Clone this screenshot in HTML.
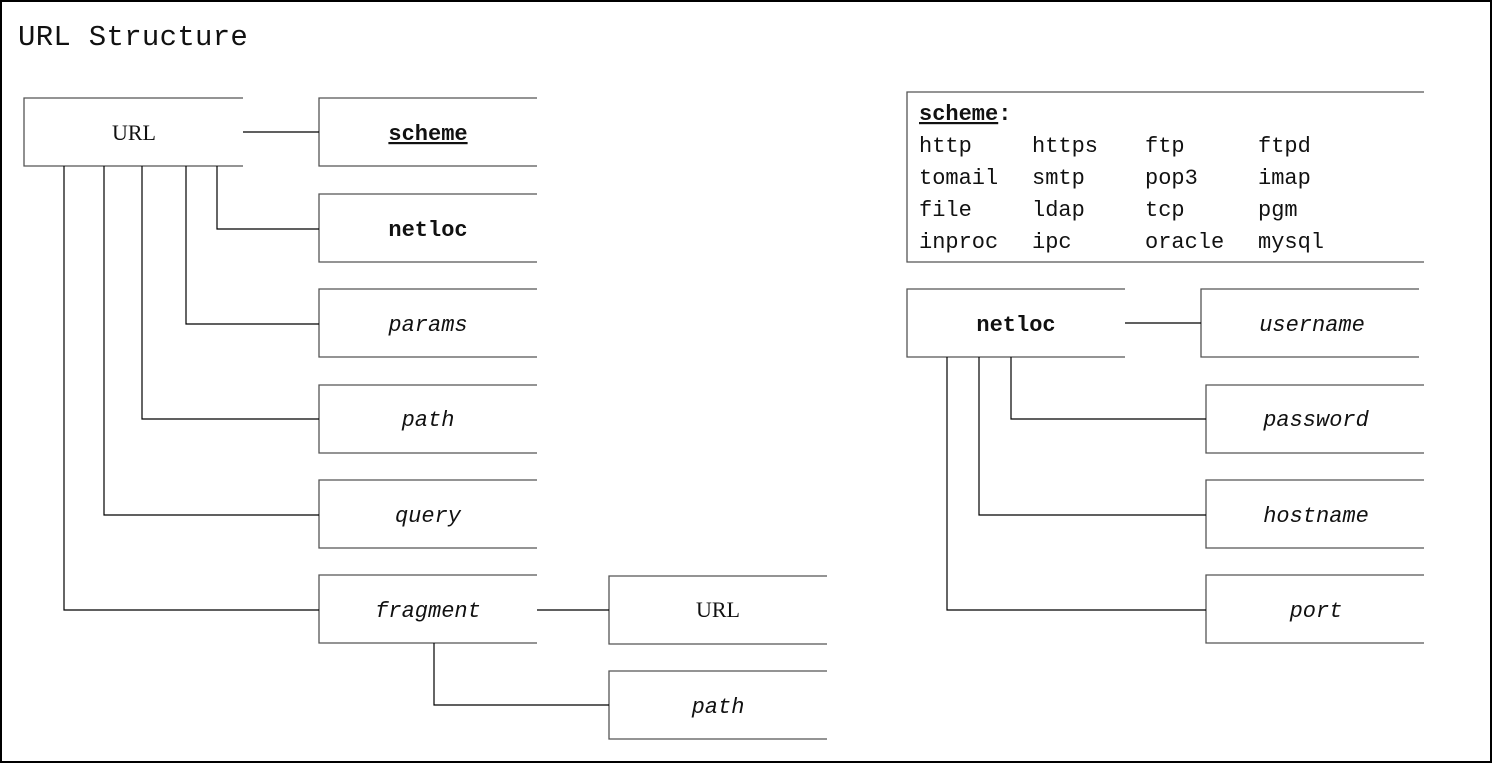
<!DOCTYPE html>
<html><head><meta charset="utf-8"><style>
html,body{margin:0;padding:0;background:#fff;width:1493px;height:764px;overflow:hidden}
text{font-family:"Liberation Mono","Noto Serif CJK SC",monospace;fill:#111}
</style></head><body>
<svg width="1493" height="764" viewBox="0 0 1493 764" xmlns="http://www.w3.org/2000/svg">
<rect x="1" y="1" width="1490" height="761" fill="#fff" stroke="#000" stroke-width="2"/>
<text x="18" y="45" font-size="29" letter-spacing="0.3">URL Structure</text>
<g fill="none" stroke="#555" stroke-width="1.3">
<path d="M243,98H24V166H243"/>
<path d="M537,98H319V166H537"/>
<path d="M537,194H319V262H537"/>
<path d="M537,289H319V357H537"/>
<path d="M537,385H319V453H537"/>
<path d="M537,480H319V548H537"/>
<path d="M537,575H319V643H537"/>
<path d="M827,576H609V644H827"/>
<path d="M827,671H609V739H827"/>
<path d="M1424,92H907V262H1424"/>
<path d="M1125,289H907V357H1125"/>
<path d="M1419,289H1201V357H1419"/>
<path d="M1424,385H1206V453H1424"/>
<path d="M1424,480H1206V548H1424"/>
<path d="M1424,575H1206V643H1424"/>
</g>
<g fill="none" stroke="#000" stroke-width="1.2">
<path d="M243,132H319"/>
<path d="M217,166V229H319"/>
<path d="M186,166V324H319"/>
<path d="M142,166V419H319"/>
<path d="M104,166V515H319"/>
<path d="M64,166V610H319"/>
<path d="M537,610H609"/>
<path d="M434,643V705H609"/>
<path d="M1125,323H1201"/>
<path d="M1011,357V419H1206"/>
<path d="M979,357V515H1206"/>
<path d="M947,357V610H1206"/>
</g>
<g font-size="22" text-anchor="middle">
<text x="134" y="140" style="font-family:'Liberation Serif','Noto Serif CJK SC',serif">URL</text>
<text x="428" y="140" font-weight="bold" text-decoration="underline">scheme</text>
<text x="428" y="236" font-weight="bold">netloc</text>
<text x="428" y="331" font-style="italic">params</text>
<text x="428" y="426" font-style="italic">path</text>
<text x="428" y="522" font-style="italic">query</text>
<text x="428" y="617" font-style="italic">fragment</text>
<text x="718" y="617" style="font-family:'Liberation Serif','Noto Serif CJK SC',serif">URL</text>
<text x="718" y="713" font-style="italic">path</text>
<text x="1016" y="331" font-weight="bold">netloc</text>
<text x="1312" y="331" font-style="italic">username</text>
<text x="1316" y="426" font-style="italic">password</text>
<text x="1316" y="522" font-style="italic">hostname</text>
<text x="1316" y="617" font-style="italic">port</text>
</g>
<g font-size="22">
<text x="919" y="120" font-weight="bold"><tspan text-decoration="underline">scheme</tspan>:</text>
<text x="919" y="152">http</text><text x="1032" y="152">https</text><text x="1145" y="152">ftp</text><text x="1258" y="152">ftpd</text>
<text x="919" y="184">tomail</text><text x="1032" y="184">smtp</text><text x="1145" y="184">pop3</text><text x="1258" y="184">imap</text>
<text x="919" y="216">file</text><text x="1032" y="216">ldap</text><text x="1145" y="216">tcp</text><text x="1258" y="216">pgm</text>
<text x="919" y="248">inproc</text><text x="1032" y="248">ipc</text><text x="1145" y="248">oracle</text><text x="1258" y="248">mysql</text>
</g>
</svg>
</body></html>
